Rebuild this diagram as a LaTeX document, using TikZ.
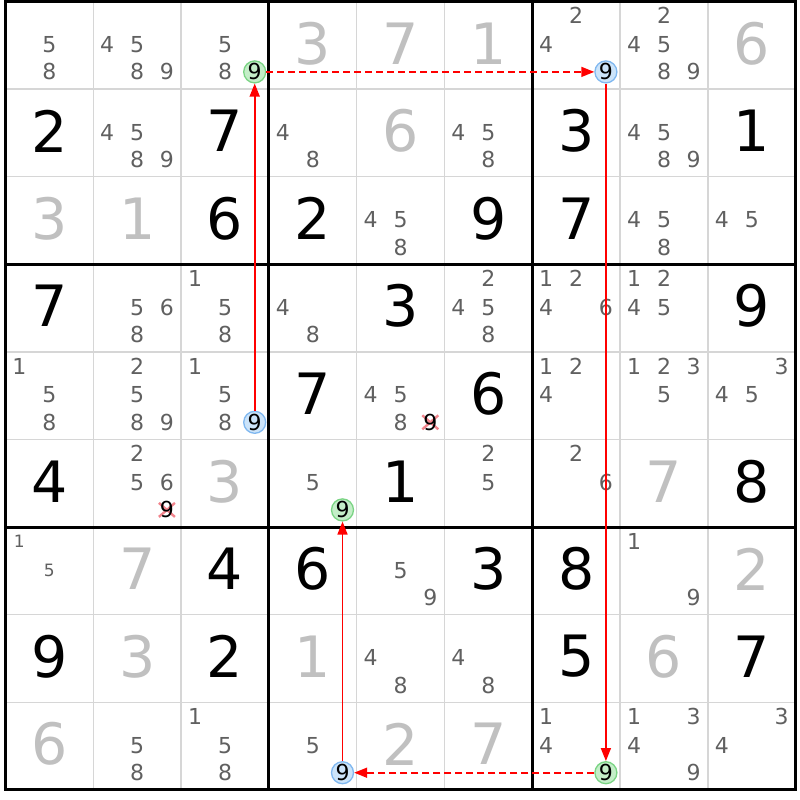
\documentclass[tikz,border=0pt]{standalone}
\usepackage{tikz}
\usetikzlibrary{arrows.meta}
\usepackage{fontspec}
\setmainfont{DejaVu Sans}
\definecolor{solvedgray}{RGB}{192,192,192}
\definecolor{candgray}{RGB}{96,96,96}
\definecolor{gridgray}{RGB}{214,214,214}
\definecolor{greenfill}{RGB}{196,238,200}
\definecolor{greenring}{RGB}{122,212,132}
\definecolor{bluefill}{RGB}{204,228,250}
\definecolor{bluering}{RGB}{128,184,240}
\definecolor{xpink}{RGB}{242,132,140}
\definecolor{chainred}{RGB}{255,0,0}
\tikzset{
  given/.style={font=\fontsize{57}{60}\selectfont, text=black, inner sep=0pt},
  solved/.style={given, text=solvedgray},
  cand/.style={font=\fontsize{22}{24}\selectfont, text=candgray, inner sep=0pt},
  candsm/.style={cand, font=\fontsize{17}{19}\selectfont},
  gc/.style={cand, text=black, circle, draw=greenring, fill=greenfill, line width=1.3pt, minimum size=22pt},
  bc/.style={cand, text=black, circle, draw=bluering, fill=bluefill, line width=1.3pt, minimum size=22pt},
  xc/.style={cand, text=black},
  xmark/.style={draw=xpink, line width=2.4pt},
  thingrid/.style={draw=gridgray, line width=1.5pt},
  thickgrid/.style={draw=black, line width=3pt},
  arrline/.style={color=chainred, line width=1.6pt},
  arr/.style={arrline, -{Triangle[length=13pt,width=10pt]}},
  darr/.style={arr, dash pattern=on 7pt off 4pt}
}
% candidate position: column offsets -30, 0, 29.7 ; row offsets -29.5, -0.75, 26.6
\newcommand\cposx[2]{5.5+87.8*(#1+0.5)-30+30*mod(#2-1,3)-0.15*mod(#2-1,3)*(mod(#2-1,3)-1)}
\newcommand\cposy[2]{1.5+87.6*(#1+0.5)-29.5+28.75*div(#2-1,3)-0.7*div(#2-1,3)*(div(#2-1,3)-1)}
\newcommand\given[3]{\node[given] (n#1#2) at ({5.5+87.8*(#2+0.5)},{1.5+87.6*(#1+0.5)-2}) {#3};}
\newcommand\solved[3]{\node[solved] (n#1#2) at ({5.5+87.8*(#2+0.5)},{1.5+87.6*(#1+0.5)-2}) {#3};}
\newcommand\cnd[4][cand]{\node[#1] (k#2#3#4) at ({\cposx{#3}{#4}},{\cposy{#2}{#4}}) {#4};}
\newcommand\cands[3]{\foreach \d in {#3}{\cnd{#1}{#2}{\d}}}
\newcommand\xcnd[3]{%
  \coordinate (x#1#2#3) at ({\cposx{#2}{#3}},{\cposy{#1}{#3}});
  \draw[xmark] ([shift={(-8,-7)}]x#1#2#3) -- ([shift={(8,7)}]x#1#2#3);
  \draw[xmark] ([shift={(-8,7)}]x#1#2#3) -- ([shift={(8,-7)}]x#1#2#3);
  \cnd[xc]{#1}{#2}{#3}}
\begin{document}
\begin{tikzpicture}[x=1pt,y=-1pt]
\useasboundingbox (0,0) rectangle (800,800);
\fill[white] (0,0) rectangle (800,800);
\foreach \i in {1,2,4,5,7,8}{
  \draw[thingrid] ({5.5+87.8*\i},1.5) -- ({5.5+87.8*\i},789.9);
  \draw[thingrid] (5.5,{1.5+87.6*\i}) -- (795.5,{1.5+87.6*\i});
}
\foreach \i in {0,3,6,9}{
  \draw[thickgrid] ({5.5+87.8*\i},1.5) -- ({5.5+87.8*\i},789.9);
  \draw[thickgrid] (5.5,{1.5+87.6*\i}) -- (795.5,{1.5+87.6*\i});
}
\draw[thickgrid] (5.5,1.5) rectangle (795.5,789.9);
% row 0
\cands{0}{0}{5,8}
\cands{0}{1}{4,5,8,9}
\cands{0}{2}{5,8}\cnd[gc]{0}{2}{9}
\solved{0}{3}{3}\solved{0}{4}{7}\solved{0}{5}{1}
\cands{0}{6}{2,4}\cnd[bc]{0}{6}{9}
\cands{0}{7}{2,4,5,8,9}
\solved{0}{8}{6}
% row 1
\given{1}{0}{2}\cands{1}{1}{4,5,8,9}\given{1}{2}{7}\cands{1}{3}{4,8}\solved{1}{4}{6}
\cands{1}{5}{4,5,8}\given{1}{6}{3}\cands{1}{7}{4,5,8,9}\given{1}{8}{1}
% row 2
\solved{2}{0}{3}\solved{2}{1}{1}\given{2}{2}{6}\given{2}{3}{2}\cands{2}{4}{4,5,8}
\given{2}{5}{9}\given{2}{6}{7}\cands{2}{7}{4,5,8}\cands{2}{8}{4,5}
% row 3
\given{3}{0}{7}\cands{3}{1}{5,6,8}\cands{3}{2}{1,5,8}\cands{3}{3}{4,8}\given{3}{4}{3}
\cands{3}{5}{2,4,5,8}\cands{3}{6}{1,2,4,6}\cands{3}{7}{1,2,4,5}\given{3}{8}{9}
% row 4
\cands{4}{0}{1,5,8}\cands{4}{1}{2,5,8,9}\cands{4}{2}{1,5,8}\cnd[bc]{4}{2}{9}
\given{4}{3}{7}\cands{4}{4}{4,5,8}\xcnd{4}{4}{9}\given{4}{5}{6}
\cands{4}{6}{1,2,4}\cands{4}{7}{1,2,3,5}\cands{4}{8}{3,4,5}
% row 5
\given{5}{0}{4}\cands{5}{1}{2,5,6}\xcnd{5}{1}{9}\solved{5}{2}{3}
\cands{5}{3}{5}\cnd[gc]{5}{3}{9}\given{5}{4}{1}\cands{5}{5}{2,5}\cands{5}{6}{2,6}
\solved{5}{7}{7}\given{5}{8}{8}
% row 6
\cnd[candsm]{6}{0}{1}\cnd[candsm]{6}{0}{5}\solved{6}{1}{7}\given{6}{2}{4}\given{6}{3}{6}
\cands{6}{4}{5,9}\given{6}{5}{3}\given{6}{6}{8}\cands{6}{7}{1,9}\solved{6}{8}{2}
% row 7
\given{7}{0}{9}\solved{7}{1}{3}\given{7}{2}{2}\solved{7}{3}{1}\cands{7}{4}{4,8}
\cands{7}{5}{4,8}\given{7}{6}{5}\solved{7}{7}{6}\given{7}{8}{7}
% row 8
\solved{8}{0}{6}\cands{8}{1}{5,8}\cands{8}{2}{1,5,8}\cands{8}{3}{5}\cnd[bc]{8}{3}{9}
\solved{8}{4}{2}\solved{8}{5}{7}\cands{8}{6}{1,4}\cnd[gc]{8}{6}{9}
\cands{8}{7}{1,3,4,9}\cands{8}{8}{3,4}
% chain
\draw[arr] (k429) -- (k029);
\draw[darr] (k029) -- (k069);
\draw[arr] (k069) -- (k869);
\draw[darr] (k869) -- (k839);
\draw[arr] (k839) -- (k539);
\end{tikzpicture}
\end{document}
